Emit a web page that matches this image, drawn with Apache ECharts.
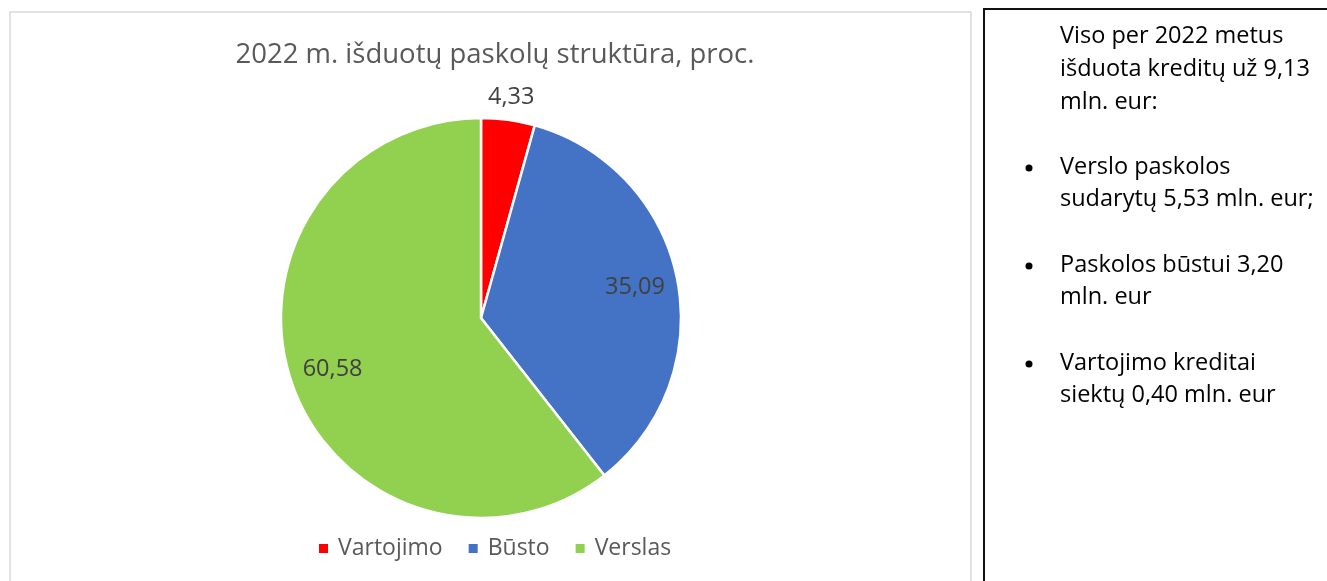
<!DOCTYPE html>
<html>
<head>
<meta charset="utf-8">
<script src="https://cdn.jsdelivr.net/npm/echarts@6/dist/echarts.min.js"></script>
<style>
  html, body { margin: 0; padding: 0; background: #fff; }
  #chart { width: 1327px; height: 581px; }
</style>
</head>
<body>
<div id="chart"></div>
<script>
// duomenys
const categories = ['Vartojimo', 'Būsto', 'Verslas']
const shares = [4.33, 35.09, 60.58]
const colors = ['#FF0000', '#4472C4', '#92D050']
const titleText = '2022 m. išduotų paskolų struktūra, proc.'
const noteHead = ['Viso per 2022 metus', 'išduota kreditų už 9,13', 'mln. eur:']
const noteBullets = [
  ['Verslo paskolos', 'sudarytų 5,53 mln. eur;'],
  ['Paskolos būstui 3,20', 'mln. eur'],
  ['Vartojimo kreditai', 'siektų 0,40 mln. eur']
]

const font = 'Open Sans'
const fmt = v => v.toFixed(2).replace('.', ',')
const pieData = categories.map((c, i) => ({ name: c, value: shares[i], itemStyle: { color: colors[i] } }))
const ghostData = categories.map((c, i) => ({ name: c, value: shares[i] }))

const center = [481, 318]
const labelStyle = { color: '#404040', fontSize: 23.5, fontFamily: font }
const noteFont = '23.5px "' + font + '"'

// rėmeliai ir tekstas dešinėje
const noteGraphics = [
  { type: 'rect', shape: { x: 10, y: 12, width: 961, height: 600 }, style: { fill: 'none', stroke: '#D9D9D9', lineWidth: 1.5 }, silent: true },
  { type: 'rect', shape: { x: 984, y: 9, width: 400, height: 600 }, style: { fill: 'none', stroke: '#111', lineWidth: 2 }, silent: true },
  { type: 'text', left: 1060, top: 20, style: { text: noteHead.join('\n'), font: noteFont, lineHeight: 33, fill: '#000' } }
]
noteBullets.forEach((lines, i) => {
  const top = 151 + i * 98
  noteGraphics.push({ type: 'circle', shape: { cx: 1029, cy: top + 17, r: 3.5 }, style: { fill: '#000' } })
  noteGraphics.push({ type: 'text', left: 1060, top: top, style: { text: lines.join('\n'), font: noteFont, lineHeight: 32, fill: '#000' } })
})

const chart = echarts.init(document.getElementById('chart'), null, { renderer: 'canvas' })
chart.setOption({
  backgroundColor: '#fff',
  animation: false,
  title: {
    text: titleText,
    left: 490,
    top: 36,
    textAlign: 'center',
    textStyle: { color: '#595959', fontSize: 27.5, fontWeight: 'normal', fontFamily: font }
  },
  legend: {
    data: categories,
    left: 317,
    top: 537,
    padding: 0,
    icon: 'rect',
    itemWidth: 11,
    itemHeight: 11,
    itemGap: 24,
    selectedMode: false,
    textStyle: { color: '#595959', fontSize: 23, fontFamily: font, padding: [0, 0, 0, 4] }
  },
  graphic: noteGraphics,
  series: [
    {
      type: 'pie',
      center: center,
      radius: 200,
      startAngle: 90,
      clockwise: true,
      avoidLabelOverlap: false,
      itemStyle: { borderColor: '#fff', borderWidth: 2.5 },
      label: { show: false },
      labelLine: { show: false },
      emphasis: { disabled: true },
      data: pieData
    },
    {
      // vidinės etiketės
      type: 'pie',
      center: center,
      radius: [108, 200],
      startAngle: 90,
      silent: true,
      avoidLabelOverlap: false,
      itemStyle: { color: 'rgba(0,0,0,0)' },
      label: Object.assign({ show: true, position: 'inside', formatter: p => p.value < 10 ? '' : fmt(p.value) }, labelStyle),
      labelLine: { show: false },
      emphasis: { disabled: true },
      legendHoverLink: false,
      data: ghostData
    },
    {
      // išorinės etiketės mažiems sektoriams
      type: 'pie',
      center: center,
      radius: [200, 240],
      startAngle: 90,
      silent: true,
      avoidLabelOverlap: false,
      itemStyle: { color: 'rgba(0,0,0,0)' },
      label: Object.assign({ show: true, position: 'inside', formatter: p => p.value < 10 ? fmt(p.value) : '' }, labelStyle),
      labelLine: { show: false },
      emphasis: { disabled: true },
      legendHoverLink: false,
      data: ghostData
    }
  ]
})
</script>
</body>
</html>
